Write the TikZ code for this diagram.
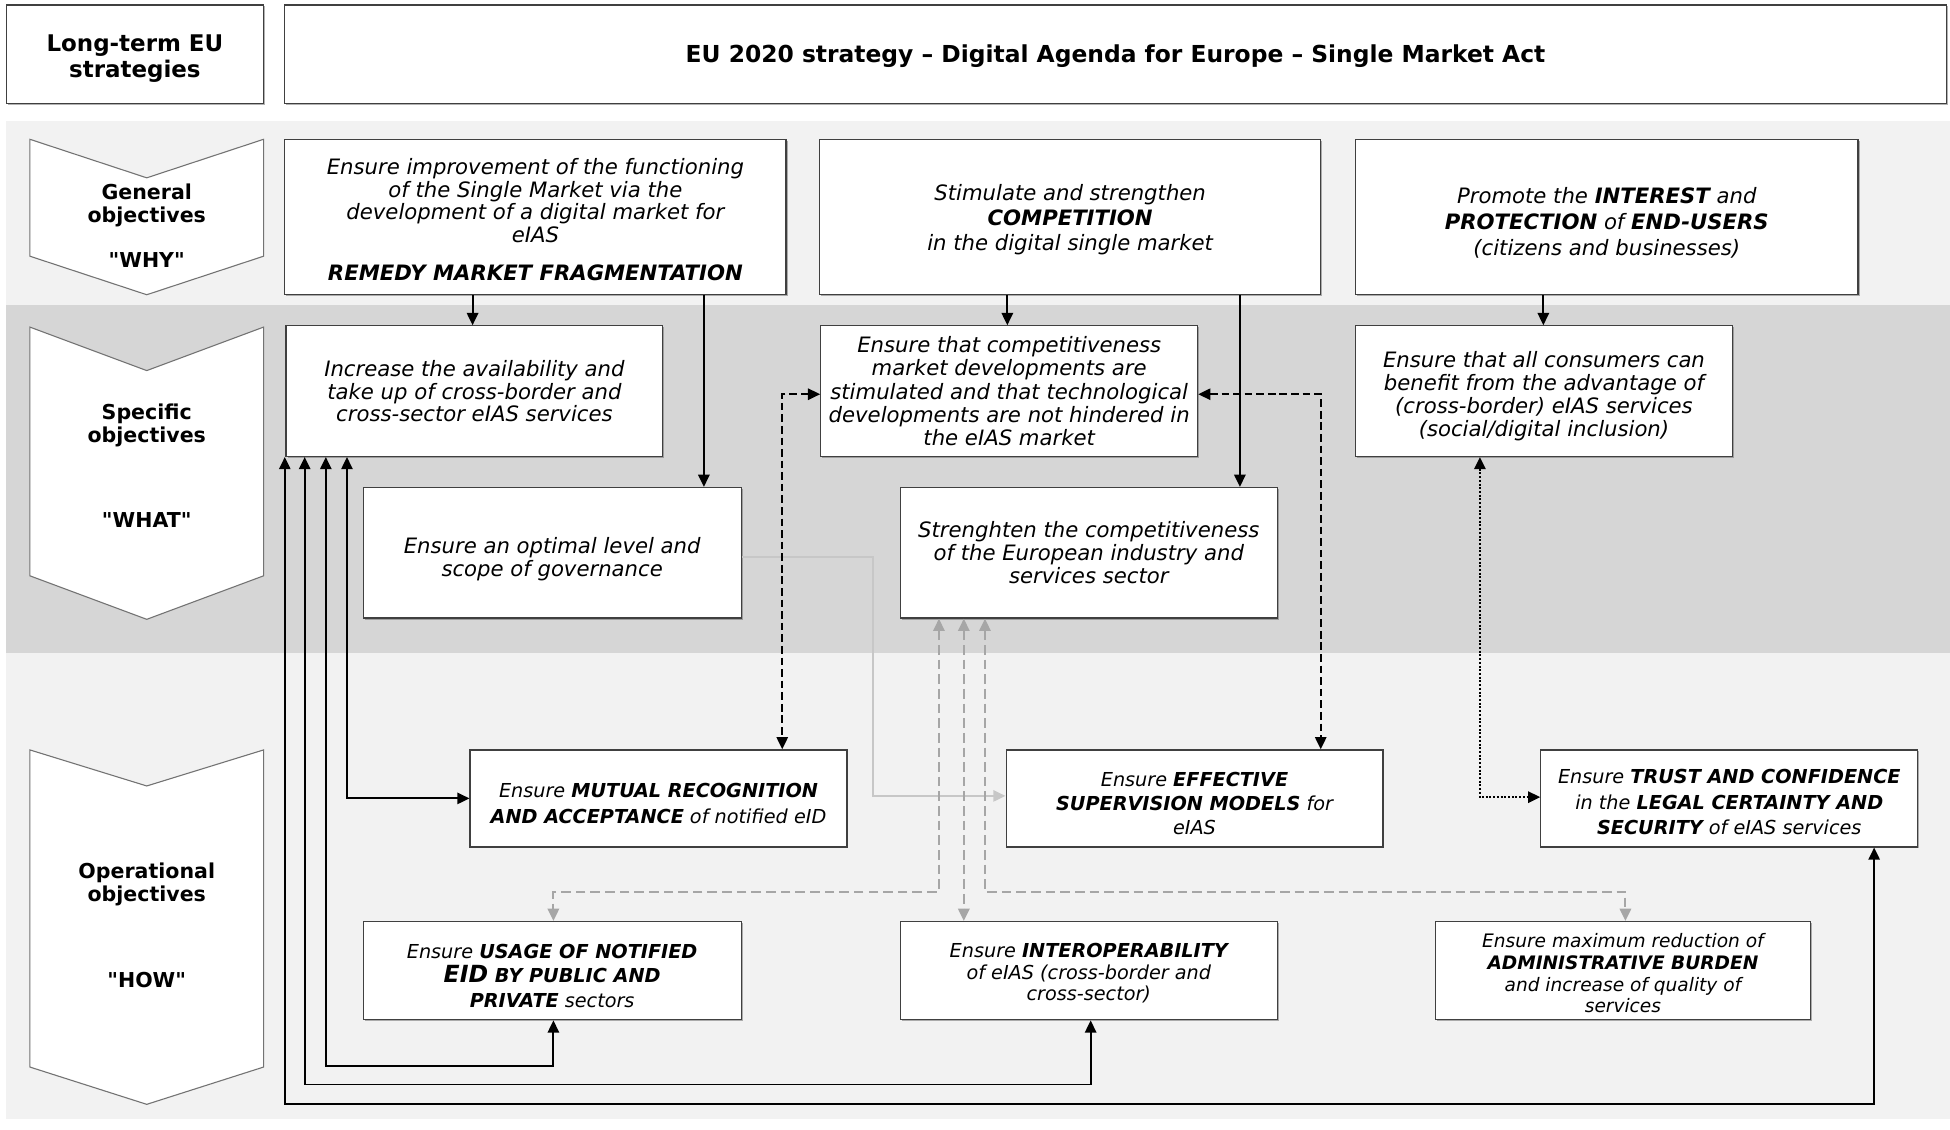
\documentclass[tikz,border=0pt]{standalone}
\usepackage{fontspec}
\setmainfont{DejaVu Sans}[Ligatures=TeXOff,BoldFont={DejaVu Sans Bold},ItalicFont={DejaVu Sans Oblique},BoldItalicFont={DejaVu Sans Bold Oblique}]
\usetikzlibrary{arrows.meta,shadows}
\newcommand\FirstLn[1]{\rule{0pt}{\dimexpr0.76em+#1pt\relax}}
\begin{document}
\begin{tikzpicture}[x=0.02cm,y=-0.02cm,
  box/.style={draw=black!75, line width=0.55pt, fill=white, inner sep=0pt, align=center,
    drop shadow={shadow xshift=0.7pt,shadow yshift=-0.7pt,fill=black!60,opacity=0.5}},
  bx/.style n args={4}{at={({(#1+#3)/2},{(#2+#4)/2})}, minimum width={(#3-#1)*0.02cm}, minimum height={(#4-#2)*0.02cm}},
  gtxt/.style={font=\fontsize{9.7}{10.5}\selectfont\itshape},
  otxt/.style={font=\fontsize{8.8}{11.6}\selectfont\itshape},
  chv/.style={align=center, font=\fontsize{9.4}{10.3}\selectfont\bfseries, inner sep=0pt},
  chevshape/.style={fill=white, draw=black!55, line width=0.5pt},
  conn/.style={line width=0.85pt, black, -{Triangle[length=5.6pt,width=5.2pt]}},
  bconn/.style={line width=0.85pt, black, {Triangle[length=5.6pt,width=5.2pt]}-{Triangle[length=5.6pt,width=5.2pt]}},
  dconn/.style={line width=0.85pt, black, dash pattern=on 3.5pt off 1.8pt,
    {Triangle[length=5.6pt,width=5.2pt]}-{Triangle[length=5.6pt,width=5.2pt]}},
  dotconn/.style={line width=1pt, black, dash pattern=on 0.9pt off 0.8pt,
    {Triangle[length=5.6pt,width=5.2pt]}-{Triangle[length=5.6pt,width=5.2pt]}},
  gconn/.style={line width=0.8pt, black!22, -{Triangle[length=5.6pt,width=5.2pt]}},
  gdconn/.style={line width=0.9pt, black!35, dash pattern=on 4.4pt off 2.3pt,
    {Triangle[length=5.6pt,width=5.2pt]}-{Triangle[length=5.6pt,width=5.2pt]}}
]
\fill[white] (0,0) rectangle (1568,908);
\useasboundingbox (0,0) rectangle (1568,908);

% bands
\fill[black!5] (5,97) rectangle (1568,245);
\fill[black!16] (5,245) rectangle (1568,525);
\fill[black!5] (5,525) rectangle (1568,900);

% top boxes
\node[box, bx={5}{4}{212}{83}, font=\fontsize{10.5}{12}\selectfont\bfseries] (LT) {\FirstLn{4}Long-term EU\\strategies};
\node[box, bx={229}{4}{1565}{83}, font=\fontsize{10.7}{12}\selectfont\bfseries] (EU) {\FirstLn{2.3}EU 2020 strategy – Digital Agenda for Europe – Single Market Act};

% chevrons
\filldraw[chevshape] (24,112) -- (118,143) -- (212,112) -- (212,206) -- (118,237) -- (24,206) -- cycle;
\filldraw[chevshape] (24,263) -- (118,298) -- (212,263) -- (212,463) -- (118,498) -- (24,463) -- cycle;
\filldraw[chevshape] (24,603) -- (118,632) -- (212,603) -- (212,858) -- (118,888) -- (24,858) -- cycle;
\node[chv] (gen) at (118,165) {General\\objectives};
\node[chv] (why) at (118,209) {"WHY"};
\node[chv] (spec) at (118,342) {Specific\\objectives};
\node[chv] (what) at (118,418) {"WHAT"};
\node[chv] (oper) at (118,711) {Operational\\objectives};
\node[chv] (how) at (118,788) {"HOW"};

% general objectives
\node[box, bx={229}{112}{632}{237}, font=\fontsize{9.7}{10.4}\selectfont\itshape] (G1)
 {\FirstLn{2.3}Ensure improvement of the functioning\\of the Single Market via the\\development of a digital market for\\eIAS\\[7pt]\textbf{REMEDY MARKET FRAGMENTATION}};
\node[box, bx={659}{112}{1062}{237}, font=\fontsize{9.7}{11.6}\selectfont\itshape] (G2)
 {\FirstLn{2.3}Stimulate and strengthen\\\textbf{COMPETITION}\\in the digital single market};
\node[box, bx={1090}{112}{1494}{237}, font=\fontsize{9.7}{11.9}\selectfont\itshape] (G3)
 {\FirstLn{5.7}Promote the \textbf{INTEREST} and\\\textbf{PROTECTION} of \textbf{END-USERS}\\(citizens and businesses)};

% specific objectives
\node[box, gtxt, bx={230}{262}{533}{367}] (S1)
 {Increase the availability and\\take up of cross-border and\\cross-sector eIAS services};
\node[box, bx={660}{262}{963}{367}, font=\fontsize{9.7}{10.6}\selectfont\itshape] (S2)
 {Ensure that competitiveness\\market developments are\\stimulated and that technological\\developments are not hindered in\\the eIAS market};
\node[box, gtxt, bx={1090}{262}{1393}{367}] (S3)
 {\FirstLn{4.5}Ensure that all consumers can\\benefit from the advantage of\\(cross-border) eIAS services\\(social/digital inclusion)};
\node[box, bx={292}{392}{596}{497}, font=\fontsize{9.7}{10.8}\selectfont\itshape] (S4)
 {\FirstLn{5.7}Ensure an optimal level and\\scope of governance};
\node[box, gtxt, bx={724}{392}{1027}{497}] (S5)
 {Strenghten the competitiveness\\of the European industry and\\services sector};

% operational objectives
\node[box, bx={378}{603}{681}{681}, font=\fontsize{8.8}{11.9}\selectfont\itshape] (O1)
 {\FirstLn{4.5}Ensure \textbf{MUTUAL RECOGNITION}\\\textbf{AND ACCEPTANCE} of notified eID};
\node[box, bx={809}{603}{1112}{681}, font=\fontsize{8.8}{10.8}\selectfont\itshape] (O2)
 {\FirstLn{4.5}Ensure \textbf{EFFECTIVE}\\\textbf{SUPERVISION MODELS} for\\eIAS};
\node[box, otxt, bx={1239}{603}{1542}{681}] (O3)
 {\FirstLn{3.4}Ensure \textbf{TRUST AND CONFIDENCE}\\in the \textbf{LEGAL CERTAINTY AND}\\\textbf{SECURITY} of eIAS services};
\node[box, bx={292}{741}{596}{820}, font=\fontsize{8.8}{11.3}\selectfont\itshape] (O4)
 {\FirstLn{4.5}Ensure \textbf{USAGE OF NOTIFIED}\\\textbf{{\fontsize{10.8}{11.3}\selectfont EID} BY PUBLIC AND}\\\textbf{PRIVATE} sectors};
\node[box, bx={724}{741}{1027}{820}, font=\fontsize{8.8}{9.8}\selectfont\itshape] (O5)
 {\FirstLn{2.3}Ensure \textbf{INTEROPERABILITY}\\of eIAS (cross-border and\\cross-sector)};
\node[box, bx={1154}{741}{1456}{820}, font=\fontsize{8.5}{10}\selectfont\itshape] (O6)
 {\FirstLn{2.3}Ensure maximum reduction of\\\textbf{ADMINISTRATIVE BURDEN}\\and increase of quality of\\services};

% gray connectors
\draw[gconn] (S4.east |- 0,448) -| (702,640) -- (O2.west |- 0,640);
\draw[gdconn] (755,0 |- S5.south) |- (445,717) -- (445,0 |- O4.north);
\draw[gdconn] (775,0 |- S5.south) -- (775,0 |- O5.north);
\draw[gdconn] (792,0 |- S5.south) |- (1307,717) -- (1307,0 |- O6.north);

% black solid connectors from general to specific
\draw[conn] (380,0 |- G1.south) -- (380,0 |- S1.north);
\draw[conn] (566,0 |- G1.south) -- (566,0 |- S4.north);
\draw[conn] (810,0 |- G2.south) -- (810,0 |- S2.north);
\draw[conn] (997,0 |- G2.south) -- (997,0 |- S5.north);
\draw[conn] (1241,0 |- G3.south) -- (1241,0 |- S3.north);

% dashed connectors
\draw[dconn] (S2.west |- 0,317) -| (629,0 |- O1.north);
\draw[dconn] (S2.east |- 0,317) -| (1062,0 |- O2.north);

% dotted connector
\draw[dotconn] (1190,0 |- S3.south) |- (O3.west |- 0,641);

% solid connectors from S1
\draw[bconn] (279,0 |- S1.south) |- (O1.west |- 0,642);
\draw[bconn] (262,0 |- S1.south) |- (445,857) -- (445,0 |- O4.south);
\draw[bconn] (245,0 |- S1.south) |- (877,872) -- (877,0 |- O5.south);
\draw[bconn] (229,0 |- S1.south) |- (1507,888) -- (1507,0 |- O3.south);
\end{tikzpicture}
\end{document}
